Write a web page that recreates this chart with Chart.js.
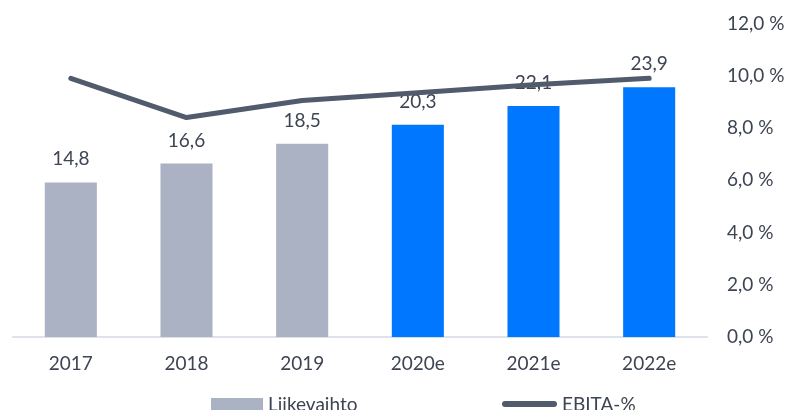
<!DOCTYPE html>
<html>
<head>
<meta charset="utf-8">
<script src="https://cdn.jsdelivr.net/npm/chart.js@4.4.1/dist/chart.umd.min.js"></script>
<style>
  html, body { margin: 0; padding: 0; background: #fff; overflow: hidden; }
  #wrap { position: relative; width: 789px; height: 410px; }
  canvas { display: block; }
  .leg { position: absolute; font-family: Lato, "Open Sans", sans-serif; font-size: 19px; color: #3d4452; white-space: nowrap; line-height: 19px; }
  .sw { position: absolute; }
</style>
</head>
<body>
<div id="wrap">
  <canvas id="c" width="789" height="410"></canvas>
  <div class="sw" style="left:211px; top:398px; width:52px; height:16px; background:#abb2c3;"></div>
  <div class="leg" style="left:268px; top:394px;">Liikevaihto</div>
  <div class="sw" style="left:502px; top:401px; width:55px; height:6px; border-radius:3px; background:#515b6b;"></div>
  <div class="leg" style="left:562px; top:394px;">EBITA-%</div>
</div>
<script>
const categories = ["2017", "2018", "2019", "2020e", "2021e", "2022e"];
const liikevaihto = [14.8, 16.6, 18.5, 20.3, 22.1, 23.9];
const liikevaihtoLabels = ["14,8", "16,6", "18,5", "20,3", "22,1", "23,9"];
const ebitaPct = [9.9, 8.4, 9.05, 9.35, 9.65, 9.9];
const barColors = ["#abb2c3", "#abb2c3", "#abb2c3", "#0077ff", "#0077ff", "#0077ff"];
const rightTicks = [0, 2, 4, 6, 8, 10, 12];

const FONT = 'Lato, "Open Sans", sans-serif';
const TEXT = '#3d4452';

const labelPlugin = {
  id: 'barLabels',
  afterDatasetDraw(chart, args) {
    if (args.index !== 0) return;
    const ctx = chart.ctx;
    const meta = chart.getDatasetMeta(0);
    ctx.save();
    ctx.font = '19px ' + FONT;
    ctx.fillStyle = TEXT;
    ctx.textAlign = 'center';
    ctx.textBaseline = 'alphabetic';
    meta.data.forEach((bar, i) => {
      ctx.fillText(liikevaihtoLabels[i], bar.x, bar.y - 17);
    });
    ctx.restore();
  }
};

new Chart(document.getElementById('c'), {
  data: {
    labels: categories,
    datasets: [
      {
        type: 'bar',
        label: 'Liikevaihto',
        data: liikevaihto,
        backgroundColor: barColors,
        yAxisID: 'y',
        order: 1,
        categoryPercentage: 1,
        barPercentage: 0.45
      },
      {
        type: 'line',
        label: 'EBITA-%',
        data: ebitaPct,
        borderColor: '#515b6b',
        borderWidth: 5,
        borderCapStyle: 'round',
        borderJoinStyle: 'round',
        pointRadius: 0,
        tension: 0,
        yAxisID: 'y1',
        order: 0
      }
    ]
  },
  options: {
    responsive: false,
    animation: false,
    layout: { padding: { left: 13, right: 0, top: 5, bottom: 28 } },
    plugins: { legend: { display: false }, tooltip: { enabled: false } },
    scales: {
      x: {
        grid: { display: false },
        border: { display: true, color: '#dfe3e9', width: 2 },
        ticks: { color: TEXT, font: { family: FONT, size: 19 }, padding: 7 }
      },
      y: {
        display: false,
        min: 0, max: 30
      },
      y1: {
        position: 'right',
        min: 0, max: 12,
        grid: { display: false },
        border: { display: false },
        afterFit(s) { s.width = 82; },
        afterBuildTicks(s) { s.ticks = rightTicks.map(v => ({ value: v })); },
        ticks: {
          color: TEXT,
          font: { family: FONT, size: 19 },
          padding: 12,
          callback: v => v.toFixed(1).replace('.', ',') + ' %'
        }
      }
    }
  },
  plugins: [labelPlugin]
});
</script>
</body>
</html>
